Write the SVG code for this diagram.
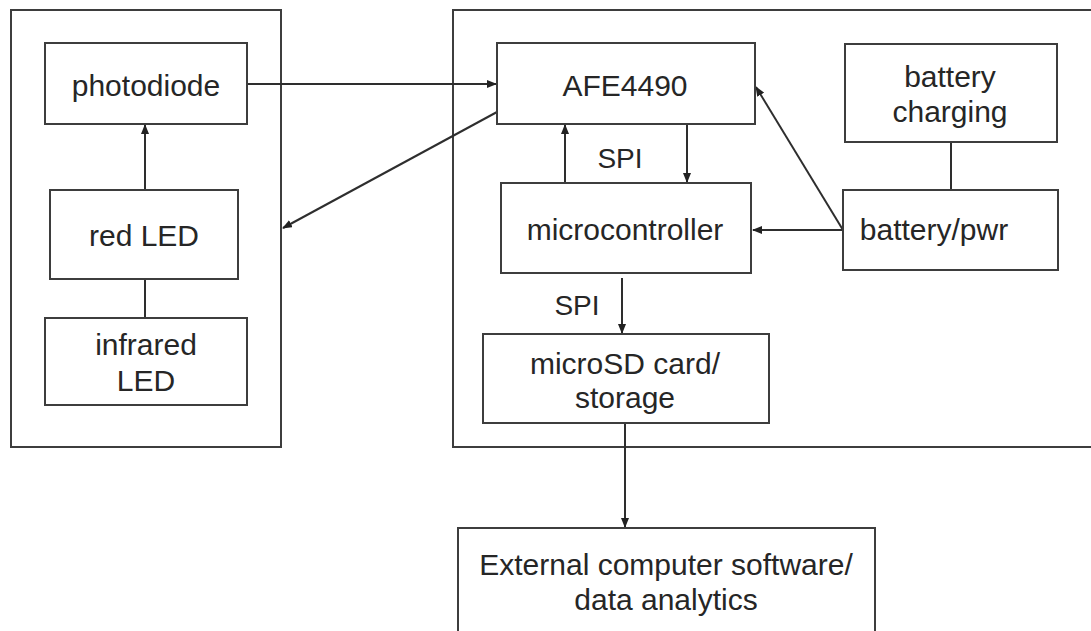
<svg xmlns="http://www.w3.org/2000/svg" width="1091" height="631" viewBox="0 0 1091 631">
  <style>
    .box { fill: #ffffff; stroke: #3d3d3d; stroke-width: 2; }
    .frame { fill: none; stroke: #3d3d3d; stroke-width: 2; }
    .wire { fill: none; stroke: #2e2e2e; stroke-width: 2; }
    .arrow { marker-end: url(#head); }
    .label { font-family: "Liberation Sans", Arial, sans-serif; font-size: 30px; fill: #262626; text-anchor: middle; }
    .bus { font-size: 28px; }
  </style>
  <defs>
    <marker id="head" markerWidth="10" markerHeight="8" refX="9" refY="4" orient="auto" markerUnits="userSpaceOnUse">
      <path d="M0,0 L10,4 L0,8 Z" fill="#222222"/>
    </marker>
  </defs>

  <rect width="1091" height="631" fill="#ffffff"/>

  <!-- enclosures -->
  <g id="sensor-frame">
    <rect class="frame" x="11" y="10" width="270" height="437"/>
  </g>
  <g id="board-frame">
    <path class="frame" d="M1093,10 H453 V447 H1093"/>
  </g>

  <!-- connectors -->
  <g id="connectors">
    <line class="wire arrow" x1="145" y1="190" x2="145" y2="125"/>
    <line class="wire" x1="145" y1="279" x2="145" y2="318"/>
    <line class="wire arrow" x1="247" y1="84" x2="496" y2="84"/>
    <line class="wire arrow" x1="497" y1="112" x2="283" y2="228"/>
    <line class="wire arrow" x1="565" y1="183" x2="565" y2="125"/>
    <line class="wire arrow" x1="687" y1="124" x2="687" y2="182"/>
    <line class="wire arrow" x1="843" y1="230" x2="753" y2="230"/>
    <line class="wire arrow" x1="843" y1="230" x2="756" y2="87"/>
    <line class="wire" x1="951" y1="142" x2="951" y2="190"/>
    <line class="wire arrow" x1="622" y1="278" x2="622" y2="333"/>
    <line class="wire arrow" x1="625" y1="423" x2="625" y2="527"/>
    <text class="label bus" x="620" y="168">SPI</text>
    <text class="label bus" x="577" y="315">SPI</text>
  </g>

  <!-- nodes -->
  <g id="photodiode">
    <rect class="box" x="45" y="43" width="202" height="81"/>
    <text class="label" x="146" y="96">photodiode</text>
  </g>
  <g id="red-led">
    <rect class="box" x="50" y="190" width="188" height="89"/>
    <text class="label" x="144" y="246">red LED</text>
  </g>
  <g id="infrared-led">
    <rect class="box" x="45" y="318" width="202" height="87"/>
    <text class="label" x="146" y="355">infrared</text>
    <text class="label" x="146" y="391">LED</text>
  </g>
  <g id="afe4490">
    <rect class="box" x="497" y="43" width="258" height="81"/>
    <text class="label" x="625" y="96">AFE4490</text>
  </g>
  <g id="microcontroller">
    <rect class="box" x="501" y="183" width="250" height="90"/>
    <text class="label" x="625" y="240">microcontroller</text>
  </g>
  <g id="battery-charging">
    <rect class="box" x="845" y="44" width="212" height="98"/>
    <text class="label" x="950" y="87">battery</text>
    <text class="label" x="950" y="122">charging</text>
  </g>
  <g id="battery-pwr">
    <rect class="box" x="843" y="190" width="215" height="80"/>
    <text class="label" x="934" y="240">battery/pwr</text>
  </g>
  <g id="microsd">
    <rect class="box" x="483" y="334" width="286" height="89"/>
    <text class="label" x="625" y="374">microSD card/</text>
    <text class="label" x="625" y="408">storage</text>
  </g>
  <g id="external">
    <rect class="box" x="458" y="528" width="417" height="110"/>
    <text class="label" x="666" y="575">External computer software/</text>
    <text class="label" x="666" y="610">data analytics</text>
  </g>
</svg>
